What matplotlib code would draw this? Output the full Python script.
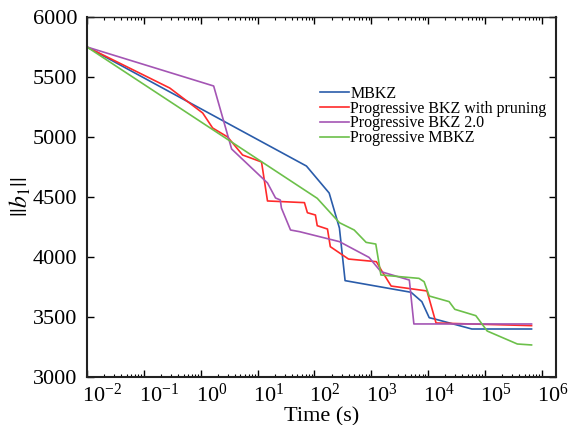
import numpy as np
import matplotlib
matplotlib.use("Agg")
import matplotlib.pyplot as plt
import matplotlib.transforms as mtransforms
from matplotlib.ticker import LogLocator, NullFormatter, MultipleLocator

# time in seconds (log10) and ||b1||
mbkz_logt = [-2, 1.86, 2.26, 2.44, 2.54, 3.70, 3.89, 4.02, 4.135, 4.77, 5.82]
mbkz_b1 = [5750, 4758, 4533, 4242, 3803, 3706, 3628, 3494, 3481, 3400, 3400]

pbkz_logt = [-2, -0.544, 0.035, 0.21, 0.474, 0.737, 1.07, 1.175, 1.825, 1.877,
             2.018, 2.05, 2.23, 2.28, 2.6, 3.09, 3.175, 3.35, 3.98, 4.14, 5.82]
pbkz_b1 = [5750, 5408, 5200, 5075, 5000, 4850, 4792, 4467, 4453, 4369,
           4350, 4261, 4233, 4086, 3983, 3961, 3892, 3758, 3717, 3450, 3428]

bkz20_logt = [-2, 0.228, 0.544, 1.175, 1.316, 1.40, 1.42, 1.58, 1.74, 2.44,
              2.96, 3.17, 3.67, 3.75, 5.82]
bkz20_b1 = [5750, 5425, 4900, 4617, 4492, 4475, 4408, 4225, 4211, 4128,
            3997, 3878, 3808, 3442, 3442]

pmbkz_logt = [-2, 2.05, 2.44, 2.70, 2.91, 3.08, 3.17, 3.84, 3.93, 4.02, 4.37,
              4.47, 4.84, 5.04, 5.57, 5.82]
pmbkz_b1 = [5750, 4489, 4286, 4225, 4122, 4108, 3850, 3822, 3794, 3675, 3628,
            3564, 3511, 3383, 3275, 3267]

labels = ["MBKZ", "Progressive BKZ with pruning", "Progressive BKZ 2.0", "Progressive MBKZ"]
colors = ["#2a5caa", "#ff2a2a", "#a455b4", "#6cc04a"]

plt.rcParams["font.family"] = ["Liberation Serif", "DejaVu Serif"]
plt.rcParams["mathtext.fontset"] = "stix"

fig = plt.figure(figsize=(5.74, 4.25), dpi=100)
ax = fig.add_axes([87 / 574, 1 - 377 / 425, (556 - 87) / 574, (377 - 17) / 425])

series = [(mbkz_logt, mbkz_b1), (pbkz_logt, pbkz_b1), (bkz20_logt, bkz20_b1), (pmbkz_logt, pmbkz_b1)]
for (lt, b), lab, c in zip(series, labels, colors):
    ax.plot(10 ** np.array(lt), b, color=c, lw=1.2, label=lab)

ax.set_xscale("log")
ax.set_xlim(1e-2, 10 ** 6.25)
ax.set_ylim(3000, 6000)
ax.xaxis.set_major_locator(LogLocator(base=10, numticks=20))
ax.xaxis.set_minor_locator(LogLocator(base=10, subs=np.arange(2, 10), numticks=20))
ax.xaxis.set_minor_formatter(NullFormatter())
ax.yaxis.set_major_locator(MultipleLocator(500))

ax.tick_params(which="both", direction="in", top=True, right=True, labelsize=16)
ax.tick_params(axis="y", pad=7)
ax.tick_params(axis="x", pad=5)
ax.tick_params(which="major", length=5, width=1)
ax.tick_params(which="minor", length=2.5, width=0.8)
for s in ax.spines.values():
    s.set_linewidth(1.5)
    s.set_color("#222222")
ax.spines["top"].set_linewidth(1.0)

# MATLAB-style: the "10" sits on the tick, exponent hangs to the right
shift = mtransforms.ScaledTranslation(-5 / 100, 0, fig.dpi_scale_trans)
for lbl in ax.get_xticklabels():
    lbl.set_horizontalalignment("left")
    lbl.set_transform(lbl.get_transform() + shift)

ax.set_xlabel("Time (s)", fontsize=16, labelpad=0)
ax.set_ylabel(r"$||b_1||$", fontsize=17, labelpad=0)

ax.legend(loc="upper left", bbox_to_anchor=((320 - 87) / 469, 1 - (86 - 17) / 360),
          frameon=False, fontsize=11.5, handlelength=1.8, handletextpad=0.1,
          labelspacing=-0.08, borderaxespad=0, borderpad=0)

fig.savefig("out.png", dpi=100)
